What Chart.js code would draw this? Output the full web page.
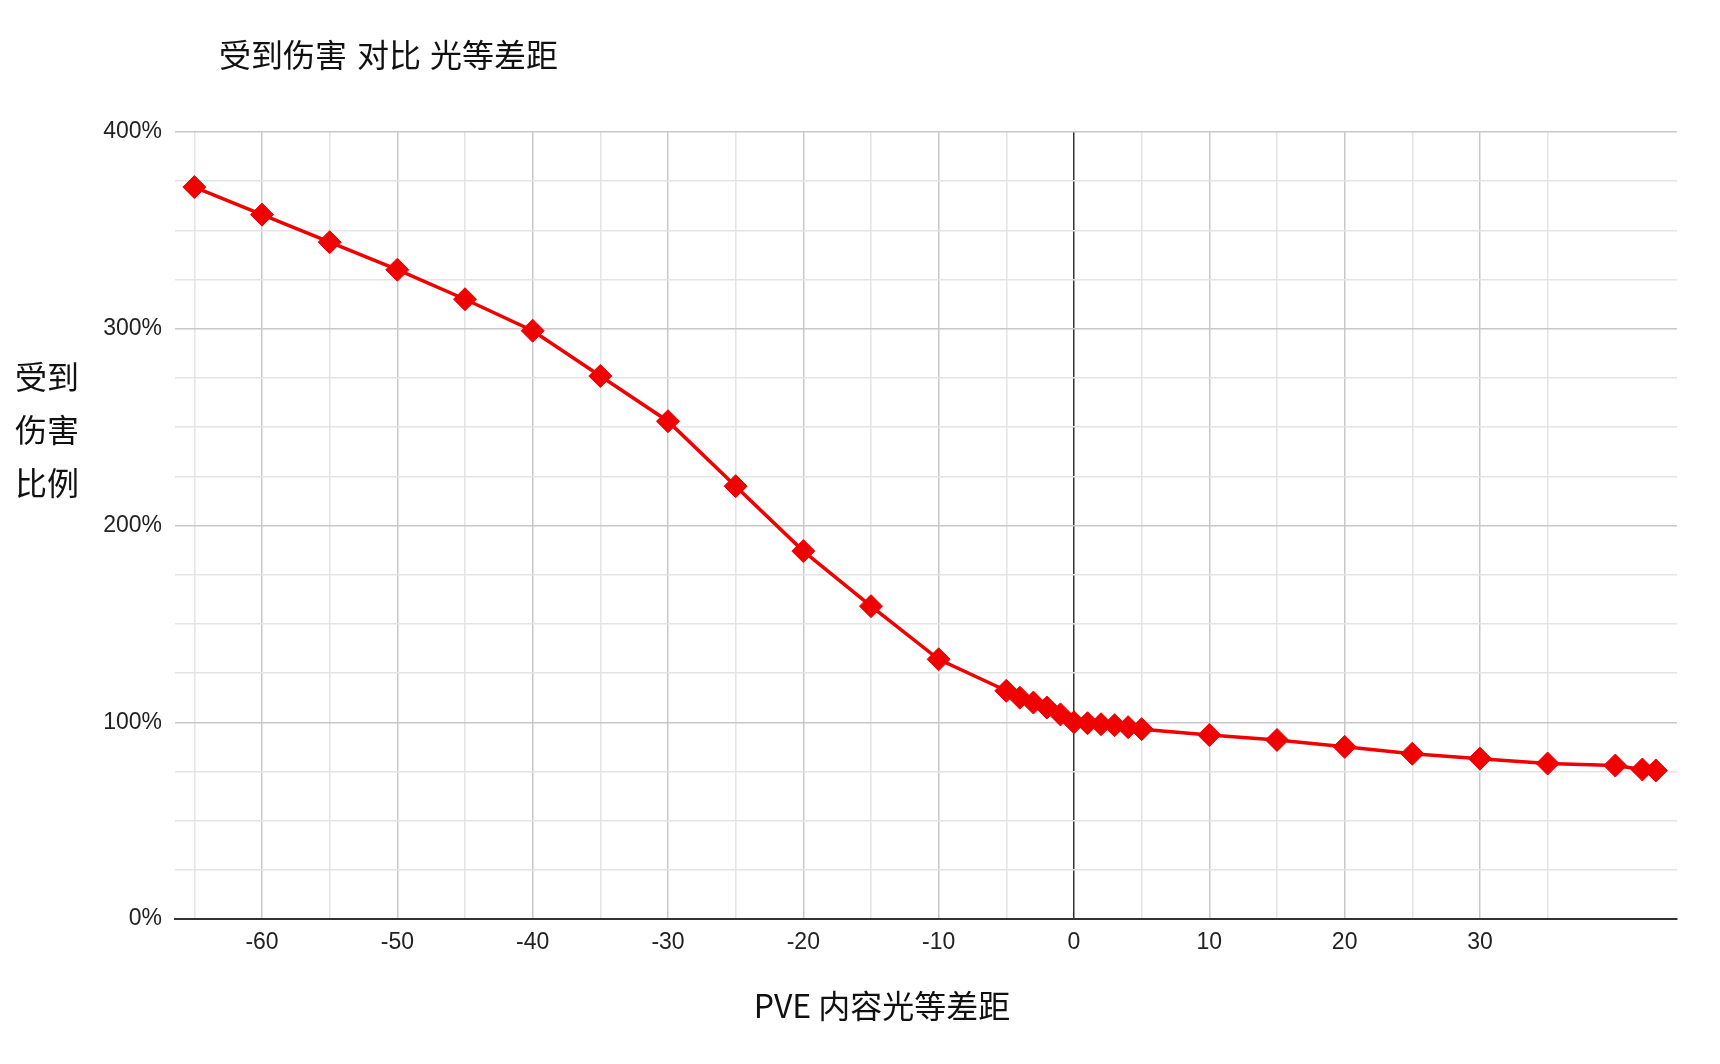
<!DOCTYPE html>
<html>
<head>
<meta charset="utf-8">
<script src="https://cdn.jsdelivr.net/npm/chart.js@4.4.1/dist/chart.umd.min.js"></script>
<style>
  body { margin: 0; background: #fff; }
  #wrap { width: 1720px; height: 1064px; position: relative; }
</style>
</head>
<body>
<div id="wrap"><canvas id="damage-chart"></canvas></div>
<script>
const LEVEL_GAP = [-65, -60, -55, -50, -45, -40, -35, -30, -25, -20, -15, -10,
  -5, -4, -3, -2, -1, 0, 1, 2, 3, 4, 5, 10, 15, 20, 25, 30, 35, 40, 42, 43];
const DAMAGE_PCT = [372, 358, 344, 330, 315, 299, 276, 253, 220, 187, 159, 132,
  116, 112.5, 110, 107.5, 104, 100, 99.5, 99, 98.5, 97.5, 96.5, 93.5, 91, 87.5, 84, 81.5, 79, 78, 76, 75.5];

const X_GRID = [-65, -60, -55, -50, -45, -40, -35, -30, -25, -20, -15, -10, -5, 0, 5, 10, 15, 20, 25, 30, 35];
const X_LABELS = [-60, -50, -40, -30, -20, -10, 0, 10, 20, 30];
const Y_GRID = [0, 25, 50, 75, 100, 125, 150, 175, 200, 225, 250, 275, 300, 325, 350, 375, 400];
const Y_LABELS = [0, 100, 200, 300, 400];

const CHART_TITLE = ["受到伤害", "对比", "光等差距"];
const Y_TITLE = ["受到", "伤害", "比例"];
const X_TITLE = "PVE 内容光等差距";

const RED = "#f00000";
const MAJOR_GRID = "#c8c8c8";
const MINOR_GRID = "#e4e4e4";
const CJK_FONT = '"Noto Sans CJK SC", "Microsoft YaHei", sans-serif';
const TICK_FONT = { family: '"Liberation Sans", Arial, sans-serif', size: 23 };

document.addEventListener("DOMContentLoaded", () => mount());

// titles are placed like the original, not where chart.js would center them
const titlesPlugin = {
  id: "titles",
  afterDraw(chart) {
    const ctx = chart.ctx;
    ctx.save();
    ctx.fillStyle = "#111";
    ctx.textBaseline = "middle";
    ctx.textAlign = "left";
    ctx.font = `32px ${CJK_FONT}`;
    const titleX = [219, 357, 430];
    CHART_TITLE.forEach((part, i) => ctx.fillText(part, titleX[i], 55));
    Y_TITLE.forEach((line, i) => ctx.fillText(line, 15, 377 + i * 53));
    ctx.textAlign = "center";
    ctx.fillText(X_TITLE, 882, 1006);
    ctx.restore();
  },
};

function mount() {
  const ctx = document.getElementById("damage-chart").getContext("2d");
  const points = LEVEL_GAP.map((x, i) => ({ x: x, y: DAMAGE_PCT[i] }));

  new Chart(ctx, {
    type: "line",
    data: {
      datasets: [
        {
          data: points,
          borderColor: RED,
          backgroundColor: RED,
          borderWidth: 3.5,
          pointStyle: "rectRot",
          pointRadius: 11.5,
          pointBorderWidth: 1,
          pointBackgroundColor: RED,
          pointBorderColor: RED,
          tension: 0,
        },
      ],
    },
    options: {
      responsive: true,
      maintainAspectRatio: false,
      animation: false,
      layout: { padding: { left: 0, top: 132, right: 43, bottom: 0 } },
      plugins: {
        legend: { display: false },
        title: { display: false },
        tooltip: { enabled: false },
      },
      scales: {
        x: {
          type: "linear",
          min: -66.43,
          max: 44.56,
          afterBuildTicks: (axis) => {
            axis.ticks = X_GRID.map((v) => ({ value: v }));
          },
          afterFit: (axis) => {
            axis.height = 145;
          },
          grid: {
            drawTicks: false,
            color: (c) => (c.tick.value === 0 ? "#333333" : c.tick.value % 10 === 0 ? MAJOR_GRID : MINOR_GRID),
            lineWidth: (c) => (c.tick.value === 0 ? 1.5 : 1.5),
          },
          border: { display: true, color: "#333333", width: 2 },
          ticks: {
            autoSkip: false,
            maxRotation: 0,
            padding: 10,
            color: "#222",
            font: TICK_FONT,
            callback: (v) => (X_LABELS.includes(v) ? String(v) : ""),
          },
        },
        y: {
          min: 0,
          max: 400,
          afterBuildTicks: (axis) => {
            axis.ticks = Y_GRID.map((v) => ({ value: v }));
          },
          afterFit: (axis) => {
            axis.width = 175;
          },
          grid: {
            drawTicks: false,
            color: (c) => (c.tick.value % 100 === 0 ? MAJOR_GRID : MINOR_GRID),
            lineWidth: 1.5,
          },
          border: { display: false },
          ticks: {
            autoSkip: false,
            padding: 13,
            color: "#222",
            font: TICK_FONT,
            callback: (v) => (Y_LABELS.includes(v) ? v + "%" : ""),
          },
        },
      },
    },
    plugins: [titlesPlugin],
  });
}
</script>
</body>
</html>
